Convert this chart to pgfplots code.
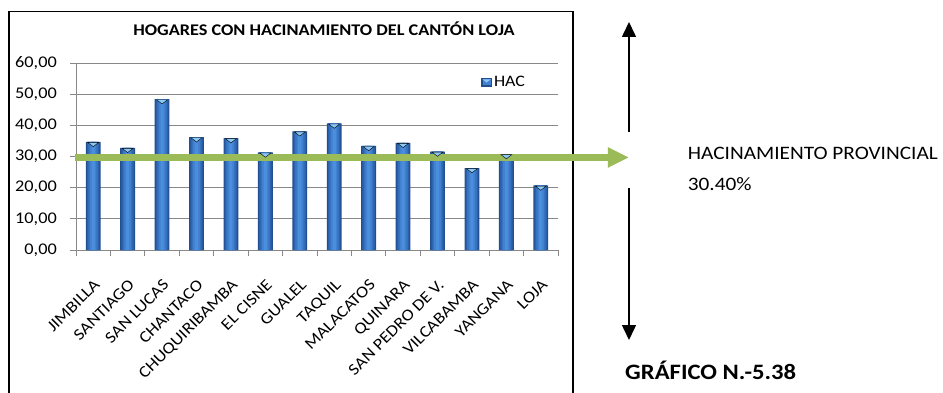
\documentclass[border=0pt]{standalone}
\usepackage{pgfplots}
\pgfplotsset{compat=1.18}
\usepackage{pgfplotstable}
\usepackage{fontspec}
\setmainfont{Carlito}[FakeStretch=1.12]
\usetikzlibrary{arrows.meta}
\definecolor{barA}{HTML}{214F90}
\definecolor{barB}{HTML}{2B61AA}
\definecolor{barC}{HTML}{3672C0}
\definecolor{barD}{HTML}{4181D0}
\definecolor{barE}{HTML}{4B8EDC}
\definecolor{bevel}{HTML}{8CC8F5}
\definecolor{gridc}{HTML}{888888}
\definecolor{provgreen}{HTML}{9BBB59}

\pgfplotstableread{
x y
0 34.7
1 32.8
2 48.4
3 36.2
4 35.9
5 31.3
6 38.1
7 40.6
8 33.4
9 34.4
10 31.6
11 26.3
12 30.8
13 20.7
}\hacdata

\begin{document}
\begin{tikzpicture}
\path[use as bounding box] (0pt,0pt) rectangle (943pt,-393pt);
\draw[line width=1.5pt] (9pt,-393pt) -- (9pt,-11.5pt) -- (573pt,-11.5pt) -- (573pt,-393pt);
\node[anchor=base, inner sep=0pt, font=\bfseries\fontsize{16.3}{18}\selectfont] at (324pt,-35.7pt) {HOGARES CON HACINAMIENTO DEL CANTÓN LOJA};
\begin{axis}[
  at={(76pt,-250pt)}, anchor=south west,
  scale only axis, width=482pt, height=187pt,
  xmin=-0.5, xmax=13.5, ymin=0, ymax=60,
  clip=false,
  axis lines*=left,
  axis line style={draw=gridc, line width=0.8pt},
  ytick={0,10,...,60},
  ymajorgrids,
  grid style={draw=gridc, line width=0.8pt},
  tick align=outside, major tick length=6pt,
  tick style={draw=gridc, line width=0.8pt},
  /pgf/number format/assume math mode=true,
  yticklabel style={/pgf/number format/.cd, fixed, fixed zerofill, precision=2, use comma, /tikz/.cd, font=\fontsize{16.3}{18}\selectfont, anchor=east, inner sep=0pt},
  yticklabel shift=13pt,
  xtick={0,...,13},
  xticklabels={JIMBILLA,SANTIAGO,SAN LUCAS,CHANTACO,CHUQUIRIBAMBA,EL CISNE,GUALEL,TAQUIL,MALACATOS,QUINARA,SAN PEDRO DE V.,VILCABAMBA,YANGANA,LOJA},
  xtick style={draw=none},
  xticklabel style={font=\fontsize{16.3}{18}\selectfont, rotate=45, anchor=north east, inner sep=0pt},
  xticklabel shift=22pt,
  extra x ticks={-0.5,0.5,...,13.5},
  extra x tick labels={},
  extra x tick style={xtick style={draw=gridc, line width=0.8pt}, grid=none},
  legend style={at={(0.84,0.896)}, anchor=west, draw=none, fill=none, inner sep=0pt, font=\fontsize{16}{18}\selectfont},
  legend image code/.code={\fill[barA] (0pt,-4.5pt) rectangle (11pt,4.5pt);\fill[barD] (1.5pt,-3pt) rectangle (9.5pt,3pt);\fill[bevel] (1.5pt,3pt) -- (9.5pt,3pt) -- (5.5pt,0pt) -- cycle;},
]
\addplot[ybar, bar shift=0pt, bar width=0.43, draw=none, fill=barA] table[x=x,y=y]{\hacdata};
\addlegendentry{HAC}
\addplot[ybar, bar shift=0pt, forget plot, bar width=0.36, draw=none, fill=barB] table[x=x,y=y]{\hacdata};
\addplot[ybar, bar shift=0pt, forget plot, bar width=0.28, draw=none, fill=barC] table[x=x,y=y]{\hacdata};
\addplot[ybar, bar shift=0pt, forget plot, bar width=0.19, draw=none, fill=barD] table[x=x,y=y]{\hacdata};
\addplot[ybar, bar shift=0pt, forget plot, bar width=0.09, draw=none, fill=barE] table[x=x,y=y]{\hacdata};
\addplot[only marks, forget plot, mark=triangle*, mark size=6.3pt, mark options={draw=none, fill=bevel, yshift=-2pt, yscale=0.45, rotate=180}] table[x=x,y=y]{\hacdata};
\draw[provgreen, line width=6.7pt, -{Triangle[length=21pt,width=19pt]}] (axis cs:-0.53,29.7) -- (axis cs:15.56,29.7);
\end{axis}
\draw[line width=1.5pt, -{Triangle[length=15pt,width=14pt]}] (629pt,-132pt) -- (629pt,-22pt);
\draw[line width=1.5pt, -{Triangle[length=15pt,width=14pt]}] (629pt,-188pt) -- (629pt,-340pt);
\node[anchor=base west, inner sep=0pt, font=\fontsize{19}{22}\selectfont] at (687.7pt,-160pt) {HACINAMIENTO PROVINCIAL};
\node[anchor=base west, inner sep=0pt, font=\fontsize{19}{22}\selectfont] at (687.7pt,-190.7pt) {30.40\%};
\node[anchor=base west, inner sep=0pt, font=\bfseries\fontsize{22}{26}\selectfont] at (625pt,-379pt) {GRÁFICO N.-5.38};
\end{tikzpicture}
\end{document}
